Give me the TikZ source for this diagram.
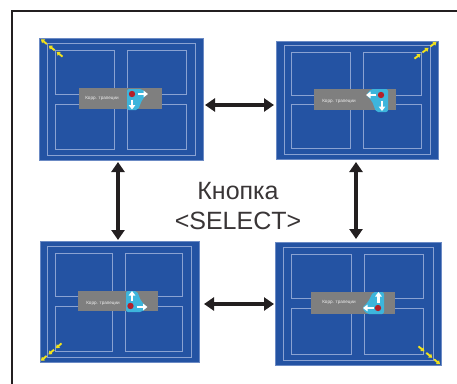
\documentclass[tikz,border=0pt]{standalone}
\usepackage{fontspec}
\setmainfont{Liberation Sans}
\usetikzlibrary{arrows.meta,calc}
\definecolor{scrblue}{HTML}{2453A3}
\definecolor{scrline}{HTML}{8AA2D2}
\definecolor{bargray}{HTML}{7F7F7F}
\definecolor{ctlcyan}{HTML}{3DB5DC}
\definecolor{dotred}{HTML}{B3202A}
\definecolor{yel}{HTML}{F2E21B}
\definecolor{frame}{HTML}{231F20}
\tikzset{
  screenbox/.style={fill=scrblue, draw=scrline!70!scrblue, line width=0.5pt, inner sep=0pt, anchor=north west},
  paneline/.style={draw=scrline, line width=0.7pt},
  grayrect/.style={fill=bargray},
  bartext/.style={font=\fontsize{4.6}{5}\selectfont, text=white!88!bargray, inner sep=0pt},
  ctlbg/.style={fill=ctlcyan, rounded corners=2pt},
  reddot/.style={fill=dotred},
  warrow/.style={draw=white, line width=2.4pt, -{Triangle[width=6.5pt,length=4.5pt]}},
  ysmall/.style={draw=yel, line width=1.9pt, -{Triangle[width=4.6pt,length=3.4pt]}},
  bigarrow/.style={draw=frame, line width=3.6pt, {Triangle[width=13pt,length=10pt]}-{Triangle[width=13pt,length=10pt]}},
  label/.style={font=\fontsize{25}{30}\selectfont, align=center, inner sep=0pt, text=frame!90!white}
}
\newcommand\screenbase[6]{%
  \node[screenbox, minimum width=#4pt, minimum height=#5pt] (#1) at (#2,#3) {};
  \begin{scope}[shift={(#2,#3)}, xscale={#4/164}, yscale={#5/122}]
    \draw[paneline] (8,5) rectangle (156,117);
    \draw[paneline] (16,12) rectangle (75,56);
    \draw[paneline] (88,12) rectangle (147,56);
    \draw[paneline] (16,66) rectangle (75,111);
    \draw[paneline] (88,66) rectangle (147,111);
    \fill[grayrect] (#6,50) rectangle ({#6+83},71);
  \end{scope}}
% three small yellow arrows from inner point #2 toward corner #1
\newcommand\cornerarrows[2]{%
  \foreach \t [evaluate=\t as \u using \t+0.26] in {0.02,0.36,0.70}
    \draw[ysmall] ($(#2)!\t!(#1)$) -- ($(#2)!\u!(#1)$);}
\begin{document}
\begin{tikzpicture}[x=1pt,y=-1pt]
\useasboundingbox (0,0) rectangle (457,383);
% outer frame
\draw[frame, line width=2.2pt] (12,395) -- (12,11) -- (470,11);

% screen 1 (top left)
\screenbase{s1}{39}{38}{164}{122}{40}
\fill[ctlbg] (127,89) -- (142,89) -- (147,94) -- (142,100) -- (138,110) -- (127,110) -- cycle;
\fill[reddot] (132,94) circle (3.2pt);
\draw[warrow] (137.5,94) -- (148,94);
\draw[warrow] (132,99.5) -- (132,109.5);
\node[bartext] (t1) at (102,98) {Корр. трапеции};
\coordinate (c1) at (40,38.5); \coordinate (i1) at (63,57);
\cornerarrows{c1}{i1}

% screen 2 (top right)
\screenbase{s2}{276}{41}{162}{118}{38}
\fill[ctlbg] (388,89) -- (371,89) -- (366,95) -- (372,101) -- (376,112) -- (388,112) -- cycle;
\fill[reddot] (381,95) circle (3.2pt);
\draw[warrow] (376,95) -- (366,95);
\draw[warrow] (382,100.5) -- (382,111);
\node[bartext] (t2) at (339,101) {Корр. трапеции};
\coordinate (c2) at (437.5,41); \coordinate (i2) at (414,59);
\cornerarrows{c2}{i2}

% screen 3 (bottom left)
\screenbase{s3}{40}{241}{159}{121}{39}
\fill[ctlbg] (126,312) -- (142,312) -- (147,307) -- (141,301) -- (137,291) -- (126,291) -- cycle;
\fill[reddot] (130.5,306) circle (3.2pt);
\draw[warrow] (132,301) -- (132,291);
\draw[warrow] (136.5,307) -- (147.5,307);
\node[bartext] (t3) at (103,303) {Корр. трапеции};
\coordinate (c3) at (40,361.5); \coordinate (i3) at (62,343);
\cornerarrows{c3}{i3}

% screen 4 (bottom right)
\screenbase{s4}{275}{242}{166}{123}{36}
\fill[ctlbg] (384,314) -- (367,314) -- (362,308) -- (368,302) -- (373,292) -- (384,292) -- cycle;
\fill[reddot] (378,308) circle (3.2pt);
\draw[warrow] (378.5,302.5) -- (378.5,292);
\draw[warrow] (373.5,308) -- (363,308);
\node[bartext] (t4) at (339,302) {Корр. трапеции};
\coordinate (c4) at (441,365); \coordinate (i4) at (418,346);
\cornerarrows{c4}{i4}

% arrows
\coordinate (a1) at (205,105);
\coordinate (b1) at (274,105);
\coordinate (a2) at (204,304);
\coordinate (b2) at (274,304);
\coordinate (a3) at (118,162);
\coordinate (b3) at (118,240);
\coordinate (a4) at (356,162);
\coordinate (b4) at (356,239);
\draw[bigarrow] (a1) -- (b1);
\draw[bigarrow] (a2) -- (b2);
\draw[bigarrow] (a3) -- (b3);
\draw[bigarrow] (a4) -- (b4);

% label
\node[label, anchor=base] (lbl) at (238,229) {Кнопка\\<SELECT>};
\end{tikzpicture}
\end{document}
